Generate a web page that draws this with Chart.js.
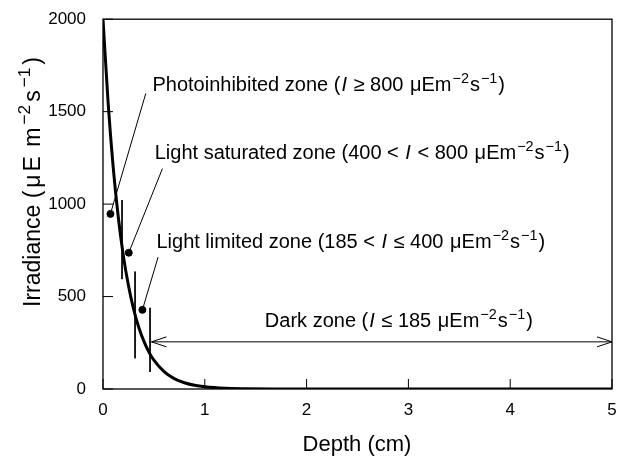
<!DOCTYPE html>
<html>
<head>
<meta charset="utf-8">
<script src="https://cdn.jsdelivr.net/npm/chart.js@4.4.1/dist/chart.umd.min.js"></script>
<style>
html,body{margin:0;padding:0;background:#fff;}
#wrap{width:624px;height:457px;position:relative;}
</style>
</head>
<body>
<div id="wrap"><canvas id="c" width="624" height="457"></canvas></div>
<script>
// Curve
const depth = [0,0.05,0.1,0.15,0.2,0.25,0.3,0.35,0.4,0.45,0.5,0.6,0.7,0.8,0.9,1.0,1.2,1.4,1.7,2,3,4,5];
const irradiance = [2000,1550,1200,930,720,560,433,335,260,201,156,94,56,34,20,12,4,1.5,0.3,0,0,0,0];
// Zone boundary markers (vertical bars)
const boundaryDepth = [0.187,0.315,0.462];
const boundaryTop = [1022,635,439];
const boundaryBottom = [594,166,92];
// Label dots and leader line ends
const dotDepth = [0.073,0.253,0.387];
const dotIrr = [947,737,428];
const leaderEndDepth = [0.42,0.584,0.541];
const leaderEndIrr = [1598,1192,713];
// Dark zone arrow
const arrowStart = 0.476, arrowEnd = 5, arrowLevel = 255;
// Tick labels
const xTicks = [0,1,2,3,4,5];
const yTicks = [0,500,1000,1500,2000];

const FONT = '"Liberation Sans", Arial, sans-serif';

const datasets = [];
datasets.push({type:'line',data:depth.map((d,i)=>({x:d,y:irradiance[i]})),borderColor:'#000',borderWidth:3,pointRadius:0,cubicInterpolationMode:'monotone',fill:false});
boundaryDepth.forEach((d,i)=>{
  datasets.push({type:'line',data:[{x:d,y:boundaryTop[i]},{x:d,y:boundaryBottom[i]}],borderColor:'#000',borderWidth:1,pointRadius:0});
  datasets.push({type:'line',data:[{x:dotDepth[i],y:dotIrr[i]},{x:leaderEndDepth[i],y:leaderEndIrr[i]}],borderColor:'#000',borderWidth:1,pointRadius:0});
});
datasets.push({type:'scatter',data:dotDepth.map((d,i)=>({x:d,y:dotIrr[i]})),backgroundColor:'#000',borderColor:'#000',pointRadius:3.5});
datasets.push({type:'line',data:[{x:arrowStart,y:arrowLevel},{x:arrowEnd,y:arrowLevel}],borderColor:'#000',borderWidth:1,pointRadius:0});

function drawRich(ctx, segs, x, y, size, align, supRatio, gap){
  supRatio = supRatio || 0.7; gap = gap || 0;
  const parts = segs.map(([t,s])=>{
    const fs = s==='sup'? size*supRatio : size;
    const f = (s==='i'?'italic ':'') + fs + 'px ' + FONT;
    ctx.font = f;
    return {t,s,f,w:ctx.measureText(t).width};
  });
  const total = parts.reduce((a,p)=>a+p.w,0) + gap*(parts.length-1);
  let cx = align==='center'? x-total/2 : x;
  ctx.textBaseline='alphabetic';
  ctx.textAlign='left';
  parts.forEach(p=>{
    ctx.font=p.f;
    ctx.fillText(p.t,cx,p.s==='sup'? y-size*0.42 : y);
    cx+=p.w+gap;
  });
}

const unit = [[' μEm',''],['−2','sup'],['s',''],['−1','sup'],[')','']];
const labels = [
  {x:0.486,y:1611,segs:[['Photoinhibited zone (',''],['I','i'],[' ≥ 800','']].concat(unit)},
  {x:0.508,y:1243,segs:[['Light saturated zone (400 < ',''],['I','i'],[' < 800','']].concat(unit)},
  {x:0.525,y:763,segs:[['Light limited zone (185 < ',''],['I','i'],[' ≤ 400','']].concat(unit)},
  {x:1.59,y:335,segs:[['Dark zone (',''],['I','i'],[' ≤ 185','']].concat(unit)}
];

const deco = {
  id:'deco',
  afterDatasetsDraw(chart){
    const {ctx,chartArea:a,scales:{x,y}} = chart;
    ctx.save();
    ctx.strokeStyle='#000';
    ctx.lineWidth=1.3;
    ctx.strokeRect(a.left,a.top,a.right-a.left,a.bottom-a.top);
    ctx.lineWidth=1;
    ctx.beginPath();
    xTicks.forEach(v=>{const p=x.getPixelForValue(v);ctx.moveTo(p,a.bottom);ctx.lineTo(p,a.bottom-10);});
    yTicks.forEach(v=>{const p=y.getPixelForValue(v);ctx.moveTo(a.left,p);ctx.lineTo(a.left+10,p);});
    ctx.stroke();
    const ay=y.getPixelForValue(arrowLevel);
    const x1=x.getPixelForValue(arrowStart), x2=x.getPixelForValue(arrowEnd);
    ctx.beginPath();
    ctx.moveTo(x1+15,ay-5);ctx.lineTo(x1,ay);ctx.lineTo(x1+15,ay+5);
    ctx.moveTo(x2-15,ay-5);ctx.lineTo(x2,ay);ctx.lineTo(x2-15,ay+5);
    ctx.stroke();
    ctx.fillStyle='#000';
    labels.forEach(l=>drawRich(ctx,l.segs,x.getPixelForValue(l.x),y.getPixelForValue(l.y),20,'left',0.72,1));
    ctx.font='22px '+FONT;
    ctx.textAlign='center';ctx.textBaseline='alphabetic';
    ctx.fillText('Depth (cm)',357,451);
    ctx.save();
    ctx.translate(40,182);
    ctx.rotate(-Math.PI/2);
    drawRich(ctx,[['Irradiance (',''],['μ',''],['E',''],[' m',''],['−2','sup'],['s',''],['−1','sup'],[')','']],0,0,23,'center',0.75,3);
    ctx.restore();
    ctx.restore();
  }
};

new Chart(document.getElementById('c'),{
  data:{datasets},
  options:{
    responsive:false,animation:false,
    layout:{padding:{left:0,right:12,top:16,bottom:0}},
    plugins:{legend:{display:false},tooltip:{enabled:false}},
    scales:{
      x:{type:'linear',min:0,max:5,
        afterFit(s){s.height=68;},
        afterBuildTicks(s){s.ticks=xTicks.map(v=>({value:v}));},
        grid:{display:false},border:{display:false},
        ticks:{color:'#000',font:{family:FONT,size:17},padding:3,maxRotation:0,callback:v=>String(v)}},
      y:{type:'linear',min:0,max:2000,
        afterFit(s){s.width=103;},
        afterBuildTicks(s){s.ticks=yTicks.map(v=>({value:v}));},
        grid:{display:false},border:{display:false},
        ticks:{color:'#000',font:{family:FONT,size:17},padding:9,callback:v=>String(v)}}
    }
  },
  plugins:[deco]
});
</script>
</body>
</html>
